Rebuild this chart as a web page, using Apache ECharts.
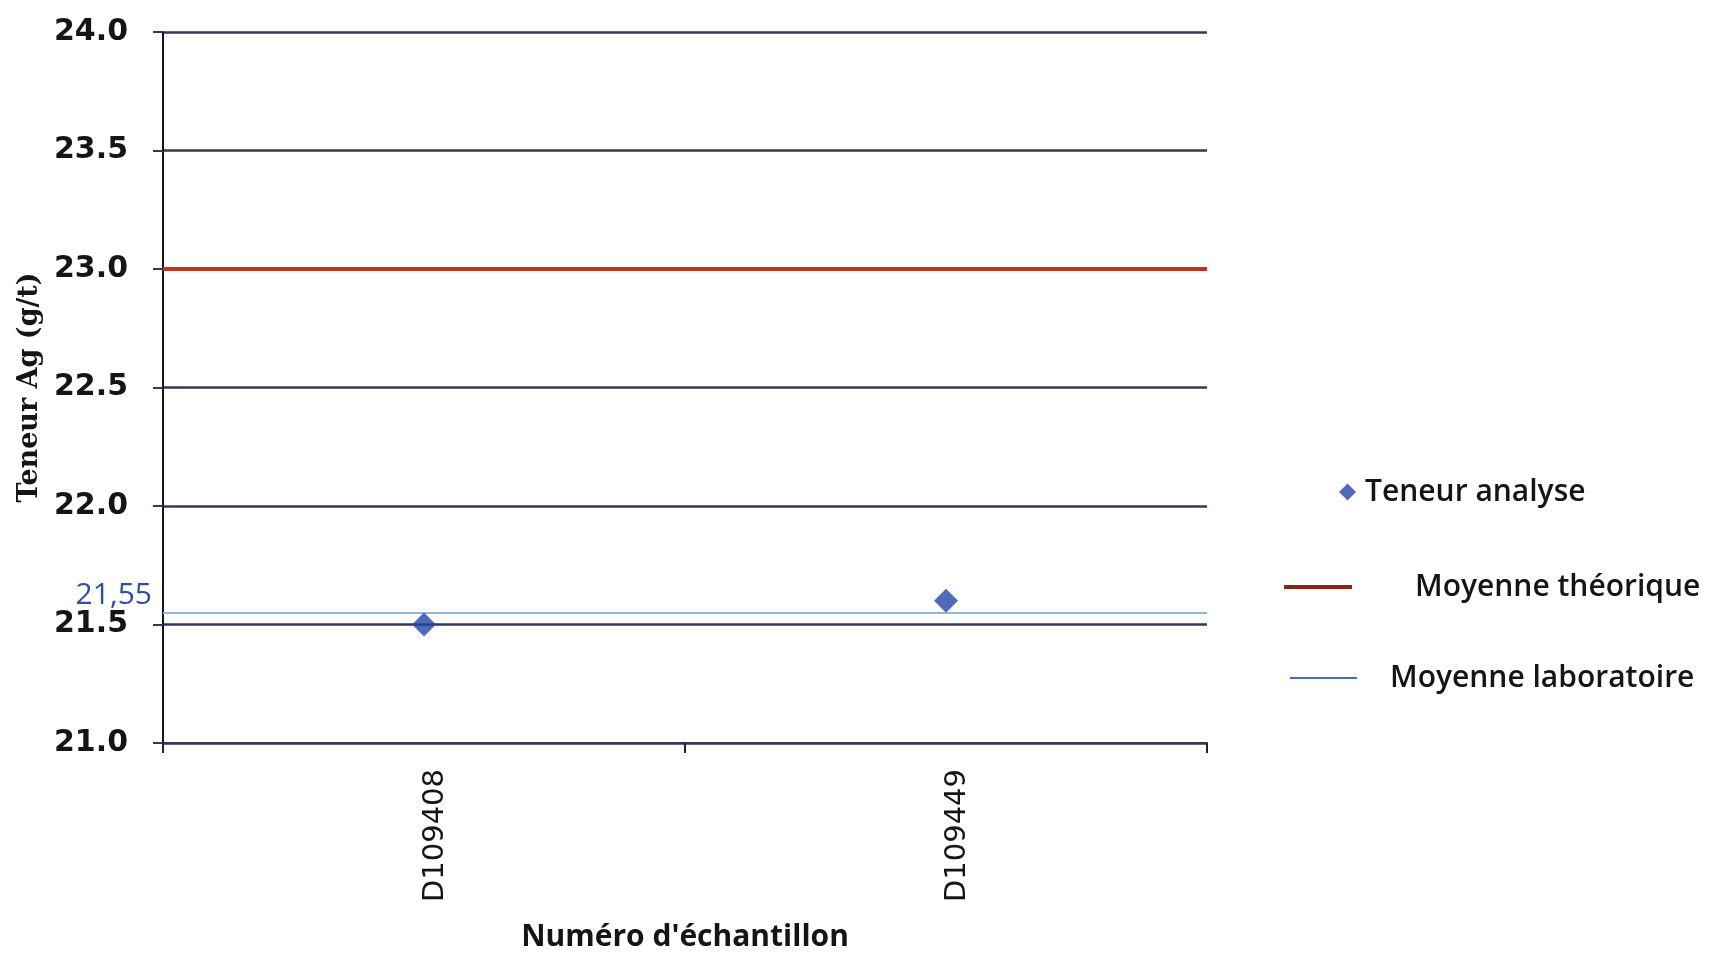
<!DOCTYPE html>
<html>
<head>
<meta charset="utf-8">
<script src="https://cdn.jsdelivr.net/npm/echarts@6/dist/echarts.min.js"></script>
<style>
html,body{margin:0;padding:0;background:#fff;}
#chart{width:1711px;height:956px;}
</style>
</head>
<body>
<div id="chart"></div>
<script>
const categories = ['D109408', 'D109449'];
const teneurAnalyse = [21.5, 21.6];
const moyenneTheorique = [23.0];
const moyenneLaboratoire = [21.55];
const yTicks = [21.0, 21.5, 22.0, 22.5, 23.0, 23.5, 24.0];

const gridColor = '#363756';
const chart = echarts.init(document.getElementById('chart'));
chart.setOption({
  backgroundColor: '#ffffff',
  animation: false,
  grid: { left: 163, right: 504, top: 32, bottom: 213, containLabel: false, outerBoundsMode: 'none' },
  legend: [
    {
      data: [{ name: 'Teneur analyse', icon: 'diamond' }],
      left: 1334, top: 470,
      itemWidth: 17, itemHeight: 17,
      textStyle: { fontFamily: 'Open Sans', fontWeight: 600, fontSize: 30, color: '#151515', lineHeight: 34, padding: [0, 0, 0, 4] }
    },
    {
      data: [{ name: 'Moyenne théorique', icon: 'rect' }],
      left: 1279, top: 565,
      itemWidth: 68, itemHeight: 4,
      textStyle: { fontFamily: 'Open Sans', fontWeight: 600, fontSize: 30, color: '#151515', lineHeight: 34, padding: [0, 0, 0, 58] }
    },
    {
      data: [{ name: 'Moyenne laboratoire', icon: 'rect' }],
      left: 1285, top: 656,
      itemWidth: 67, itemHeight: 2,
      textStyle: { fontFamily: 'Open Sans', fontWeight: 600, fontSize: 30, color: '#151515', lineHeight: 34, padding: [0, 0, 0, 28] }
    }
  ],
  xAxis: {
    type: 'category',
    data: categories,
    boundaryGap: true,
    name: 'Numéro d\'échantillon',
    nameLocation: 'middle',
    nameGap: 179,
    nameTextStyle: { fontFamily: 'Open Sans', fontWeight: 'bold', fontSize: 30, color: '#151515' },
    axisLine: { show: true, lineStyle: { color: gridColor, width: 2 } },
    axisTick: { show: true, length: 10, lineStyle: { color: '#222', width: 2 } },
    axisLabel: { rotate: 90, margin: 26, fontFamily: 'DejaVu Sans', fontSize: 29, color: '#151515', verticalAlign: 'top', lineHeight: 22 },
    splitLine: { show: false }
  },
  yAxis: {
    type: 'value',
    min: yTicks[0], max: yTicks[yTicks.length - 1], interval: 0.5,
    name: 'Teneur Ag (g/t)',
    nameLocation: 'middle',
    nameGap: 107,
    nameTextStyle: { fontFamily: 'DejaVu Serif', fontWeight: 'bold', fontSize: 27, color: '#151515' },
    axisLine: { show: true, lineStyle: { color: '#151515', width: 2 } },
    axisTick: { show: true, length: 10, lineStyle: { color: gridColor, width: 2 } },
    axisLabel: {
      margin: 35, fontFamily: 'DejaVu Sans', fontWeight: 'bold', fontSize: 30, color: '#151515',
      formatter: v => v.toFixed(1)
    },
    splitLine: { show: true, lineStyle: { color: gridColor, width: 2.5 } }
  },
  series: [
    {
      name: 'Teneur analyse',
      type: 'scatter',
      data: teneurAnalyse,
      symbol: 'diamond',
      symbolSize: 24,
      color: '#2443a8',
      itemStyle: { color: '#2443a8' },
      z: 5
    },
    {
      name: 'Moyenne théorique',
      type: 'line',
      data: [],
      color: '#8a2418',
      markLine: {
        silent: true,
        symbol: 'none',
        lineStyle: { color: '#c0341f', width: 4, type: 'solid' },
        label: { show: false },
        data: moyenneTheorique.map(v => ({ yAxis: v }))
      }
    },
    {
      name: 'Moyenne laboratoire',
      type: 'line',
      data: [],
      color: '#4a68b8',
      markLine: {
        silent: true,
        symbol: 'none',
        lineStyle: { color: '#8fb8e0', width: 2, type: 'solid' },
        label: {
          show: true, position: 'start', distance: 11,
          offset: [0, -17],
          formatter: p => String(p.value).replace('.', ','),
          color: '#2f4ea8', fontFamily: 'Open Sans', fontSize: 30
        },
        data: moyenneLaboratoire.map(v => ({ yAxis: v }))
      }
    }
  ]
});
</script>
</body>
</html>
